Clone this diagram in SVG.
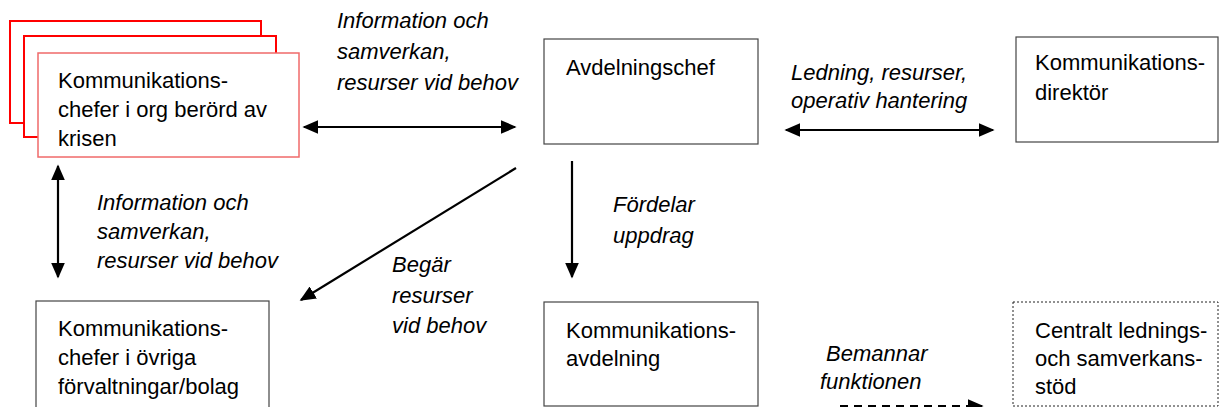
<svg xmlns="http://www.w3.org/2000/svg" width="1219" height="407" viewBox="0 0 1219 407">
<style>
text{font-family:"Liberation Sans",Arial,sans-serif;font-size:22px;fill:#000}
.lbl{font-style:italic}
.box{fill:#fff;stroke:#444;stroke-width:1.2}
.red{fill:#fff;stroke:#f00;stroke-width:2}
.redf{fill:#fff;stroke:#f06a6a;stroke-width:1.5}
.dot{fill:#fff;stroke:#222;stroke-width:1;stroke-dasharray:2 2}
.ln{stroke:#000;stroke-width:2.2;fill:none}
</style>
<defs>
<marker id="a" viewBox="0 0 10 10" refX="9" refY="5" markerWidth="16" markerHeight="14" orient="auto-start-reverse" markerUnits="userSpaceOnUse" preserveAspectRatio="none">
<path d="M0,0 L10,5 L0,10 z" fill="#000"/>
</marker>
</defs>
<rect width="1219" height="407" fill="#fff"/>
<g id="n-krisorg">
<rect class="red" x="10" y="21" width="251" height="102"/>
<rect class="red" x="24" y="36" width="252" height="101"/>
<rect class="redf" x="38" y="53" width="261" height="104"/>
<text><tspan x="58" y="88">Kommunikations-</tspan><tspan x="58" y="117">chefer i org berörd av</tspan><tspan x="58" y="146">krisen</tspan></text>
</g>
<g id="n-avdchef">
<rect class="box" x="544" y="39" width="214" height="105"/>
<text x="566" y="75">Avdelningschef</text>
</g>
<g id="n-direktor">
<rect class="box" x="1016" y="37" width="202" height="105"/>
<text><tspan x="1035" y="70">Kommunikations-</tspan><tspan x="1035" y="100">direktör</tspan></text>
</g>
<g id="n-ovriga">
<rect class="box" x="36" y="301" width="233" height="120"/>
<text><tspan x="58" y="336">Kommunikations-</tspan><tspan x="58" y="365">chefer i övriga</tspan><tspan x="58" y="394">förvaltningar/bolag</tspan></text>
</g>
<g id="n-kommavd">
<rect class="box" x="544" y="302" width="214" height="104"/>
<text><tspan x="566" y="338">Kommunikations-</tspan><tspan x="566" y="366">avdelning</tspan></text>
</g>
<g id="n-central">
<rect class="dot" x="1013" y="302" width="205" height="104"/>
<text><tspan x="1035" y="338">Centralt lednings-</tspan><tspan x="1035" y="366">och samverkans-</tspan><tspan x="1035" y="394">stöd</tspan></text>
</g>
<g id="connectors">
<line class="ln" x1="304" y1="127" x2="515" y2="127" marker-start="url(#a)" marker-end="url(#a)"/>
<line class="ln" x1="786" y1="130" x2="993" y2="130" marker-start="url(#a)" marker-end="url(#a)"/>
<line class="ln" x1="58" y1="166" x2="58" y2="277" marker-start="url(#a)" marker-end="url(#a)"/>
<line class="ln" x1="516" y1="168" x2="301" y2="300" marker-end="url(#a)"/>
<line class="ln" x1="572" y1="161" x2="572" y2="277" marker-end="url(#a)"/>
<line class="ln" x1="840" y1="406" x2="982" y2="406" stroke-dasharray="8 6" stroke-width="1.5" marker-end="url(#a)"/>
</g>
<g id="labels">
<text class="lbl"><tspan x="337" y="28">Information och</tspan><tspan x="337" y="59">samverkan,</tspan><tspan x="337" y="90">resurser vid behov</tspan></text>
<text class="lbl"><tspan x="791" y="80">Ledning, resurser,</tspan><tspan x="791" y="108">operativ hantering</tspan></text>
<text class="lbl"><tspan x="97" y="210">Information och</tspan><tspan x="97" y="239">samverkan,</tspan><tspan x="97" y="268">resurser vid behov</tspan></text>
<text class="lbl"><tspan x="392" y="272">Begär</tspan><tspan x="392" y="303">resurser</tspan><tspan x="392" y="333">vid behov</tspan></text>
<text class="lbl"><tspan x="613" y="212">Fördelar</tspan><tspan x="613" y="243">uppdrag</tspan></text>
<text class="lbl"><tspan x="826" y="361">Bemannar</tspan><tspan x="820" y="389">funktionen</tspan></text>
</g>
</svg>
